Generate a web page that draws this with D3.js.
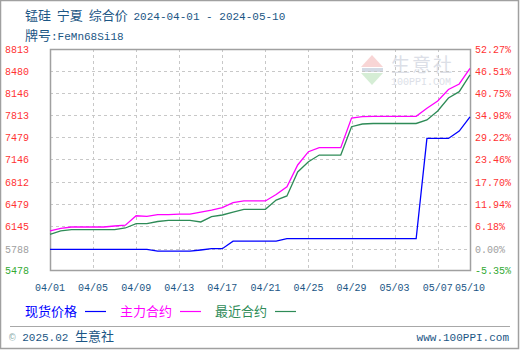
<!DOCTYPE html>
<html>
<head>
<meta charset="utf-8">
<script src="https://cdn.jsdelivr.net/npm/d3@7"></script>
<style>
  html, body { margin: 0; padding: 0; background: #fff; }
  svg { display: block; }
  text { white-space: pre; }
  .mono { font-family: "Liberation Mono", "DejaVu Sans Mono", monospace; }
  .cjk { font-family: "Noto Sans CJK SC", sans-serif; }
</style>
</head>
<body>
<svg id="chart" width="520" height="350"></svg>
<script>
// daily values 2024-04-01 .. 2024-05-10
const spot = [5788, 5788, 5788, 5788, 5788, 5788, 5788, 5788, 5788, 5788,
  5763, 5763, 5763, 5763, 5780, 5800, 5800, 5913, 5913, 5913,
  5913, 5913, 5950, 5950, 5950, 5950, 5950, 5950, 5950, 5950,
  5950, 5950, 5950, 5950, 5950, 7463, 7463, 7463, 7575, 7788];
const mainContract = [6067, 6107, 6127, 6127, 6127, 6127, 6142, 6155, 6297, 6288,
  6313, 6313, 6320, 6320, 6353, 6383, 6421, 6494, 6520, 6520,
  6520, 6617, 6735, 7063, 7263, 7324, 7324, 7324, 7772, 7791,
  7796, 7796, 7796, 7796, 7796, 7918, 8028, 8202, 8285, 8522];
const nearContract = [6017, 6067, 6086, 6086, 6086, 6086, 6086, 6112, 6177, 6177,
  6210, 6228, 6228, 6228, 6203, 6283, 6308, 6353, 6394, 6394,
  6394, 6534, 6595, 6957, 7112, 7213, 7213, 7213, 7640, 7681,
  7689, 7689, 7689, 7689, 7689, 7742, 7877, 8074, 8169, 8421];

const leftTicks = [5478, 5788, 6145, 6479, 6812, 7146, 7479, 7813, 8146, 8480, 8813];
const rightTicks = ["-5.35%", "0.00%", "6.18%", "11.94%", "17.70%", "23.46%", "29.22%", "34.98%", "40.75%", "46.51%", "52.27%"];
const xTickLabels = ["04/01", "04/05", "04/09", "04/13", "04/17", "04/21", "04/25", "04/29", "05/03", "05/07", "05/10"];

const start = new Date(2024, 3, 1);
const end = new Date(2024, 4, 10);
const days = d3.timeDay.range(start, d3.timeDay.offset(end, 1));
const parseTick = s => new Date(2024, +s.slice(0, 2) - 1, +s.slice(3));

const svg = d3.select("#chart");
const plot = { left: 50, right: 470, top: 49, bottom: 270 };
const navy = "#1b5685";

const x = d3.scaleTime().domain([start, end]).range([plot.left, plot.right]);
const y = d3.scaleLinear().domain([5478, 8813]).range([plot.bottom, plot.top]);

// outer frame
svg.append("rect")
  .attr("x", 0.5).attr("y", 0.5).attr("width", 518).attr("height", 348)
  .attr("fill", "#fff").attr("stroke", "#a0a0a0").attr("stroke-width", 1.5);

// watermark
const wm = svg.append("g").attr("opacity", 0.55);
wm.append("path").attr("d", "M372,55 L383,67 L361,67 Z").attr("fill", "#f4b4b4");
wm.append("rect").attr("x", 362).attr("y", 68).attr("width", 21).attr("height", 4).attr("fill", "#b0bcd0");
wm.append("path").attr("d", "M361,73 L383,73 L372,85 Z").attr("fill", "#b4e0b4");
wm.append("text").attr("class", "cjk").attr("x", 391).attr("y", 72)
  .attr("font-size", 19).attr("fill", "#c0c6d4").attr("letter-spacing", 2).text("生意社");
wm.append("text").attr("class", "mono").attr("x", 391).attr("y", 85)
  .attr("font-size", 10).attr("fill", "#c0c6d4").text("100PPI.COM");

// grid
const grid = svg.append("g").attr("stroke", "#c8c8c8").attr("stroke-dasharray", "3,3")
  .attr("shape-rendering", "crispEdges");
grid.selectAll(".hg").data(leftTicks.slice(1, -1)).join("line")
  .attr("x1", plot.left).attr("x2", plot.right)
  .attr("y1", d => Math.round(y(d)) + 0.5).attr("y2", d => Math.round(y(d)) + 0.5);
grid.selectAll(".vg").data(xTickLabels.slice(1, -1)).join("line")
  .attr("y1", plot.top).attr("y2", plot.bottom)
  .attr("x1", d => Math.round(x(parseTick(d))) + 0.5).attr("x2", d => Math.round(x(parseTick(d))) + 0.5);

// plot frame
svg.append("rect")
  .attr("x", plot.left + 0.5).attr("y", plot.top + 0.5)
  .attr("width", plot.right - plot.left).attr("height", plot.bottom - plot.top)
  .attr("fill", "none").attr("stroke", "#a0a0a0").attr("stroke-width", 1.5);

// tick colours: bottom green, base grey, rest red
const tickColor = i => i === 0 ? "#33aa33" : i === 1 ? "#a0a0a0" : "#ff3333";

svg.append("g").selectAll("text").data(leftTicks).join("text")
  .attr("class", "mono").attr("x", 5).attr("y", d => y(d) + 4)
  .attr("font-size", 10).attr("fill", (d, i) => tickColor(i))
  .text(d => d);

svg.append("g").selectAll("text").data(rightTicks).join("text")
  .attr("class", "mono").attr("x", 475).attr("y", (d, i) => y(leftTicks[i]) + 4)
  .attr("font-size", 10).attr("fill", (d, i) => tickColor(i))
  .text(d => d);

svg.append("g").selectAll("text").data(xTickLabels).join("text")
  .attr("class", "mono").attr("x", d => x(parseTick(d)))
  .attr("y", 291).attr("text-anchor", "middle")
  .attr("font-size", 10).attr("fill", navy)
  .text(d => d);

// series
const line = d3.line().x((d, i) => x(days[i])).y(d => y(d));
const series = [
  { name: "最近合约", values: nearContract, color: "#2e8b57" },
  { name: "主力合约", values: mainContract, color: "#ff00ff" },
  { name: "现货价格", values: spot, color: "#0000ff" }
];
series.forEach(s => {
  svg.append("path").datum(s.values)
    .attr("fill", "none").attr("stroke", s.color).attr("stroke-width", 1.3)
    .attr("d", line);
});

// title
svg.append("text").attr("x", 25).attr("y", 20).attr("fill", navy)
  .call(t => {
    t.append("tspan").attr("class", "cjk").attr("font-size", 13).text("锰硅  宁夏  综合价  ");
    t.append("tspan").attr("class", "mono").attr("font-size", 11).text("2024-04-01 - 2024-05-10");
  });
svg.append("text").attr("x", 25).attr("y", 40).attr("fill", navy)
  .call(t => {
    t.append("tspan").attr("class", "cjk").attr("font-size", 13).text("牌号");
    t.append("tspan").attr("class", "mono").attr("font-size", 11).text(":FeMn68Si18");
  });

// legend
const legend = [series[2], series[1], series[0]];
const lg = svg.append("g").selectAll("g").data(legend).join("g")
  .attr("transform", (d, i) => `translate(${25 + i * 95},0)`);
lg.append("text").attr("class", "cjk").attr("x", 0).attr("y", 316)
  .attr("font-size", 13).attr("fill", d => d.color).text(d => d.name);
lg.append("line").attr("x1", 60).attr("x2", 81).attr("y1", 311.5).attr("y2", 311.5)
  .attr("stroke", d => d.color).attr("stroke-width", 1.2);

// footer
svg.append("line").attr("x1", 10).attr("x2", 510).attr("y1", 326.5).attr("y2", 326.5)
  .attr("stroke", "#a8a8a8").attr("stroke-width", 1.2);
svg.append("text").attr("x", 9).attr("y", 341).attr("fill", navy)
  .call(t => {
    t.append("tspan").attr("class", "mono").attr("font-size", 11).attr("fill", "#8aa").text("© ");
    t.append("tspan").attr("class", "mono").attr("font-size", 11).text("2025.02 ");
    t.append("tspan").attr("class", "cjk").attr("font-size", 13).text("生意社");
  });
svg.append("text").attr("class", "mono").attr("x", 509).attr("y", 341)
  .attr("text-anchor", "end").attr("font-size", 11).attr("fill", navy)
  .text("www.100PPI.com");
</script>
</body>
</html>
